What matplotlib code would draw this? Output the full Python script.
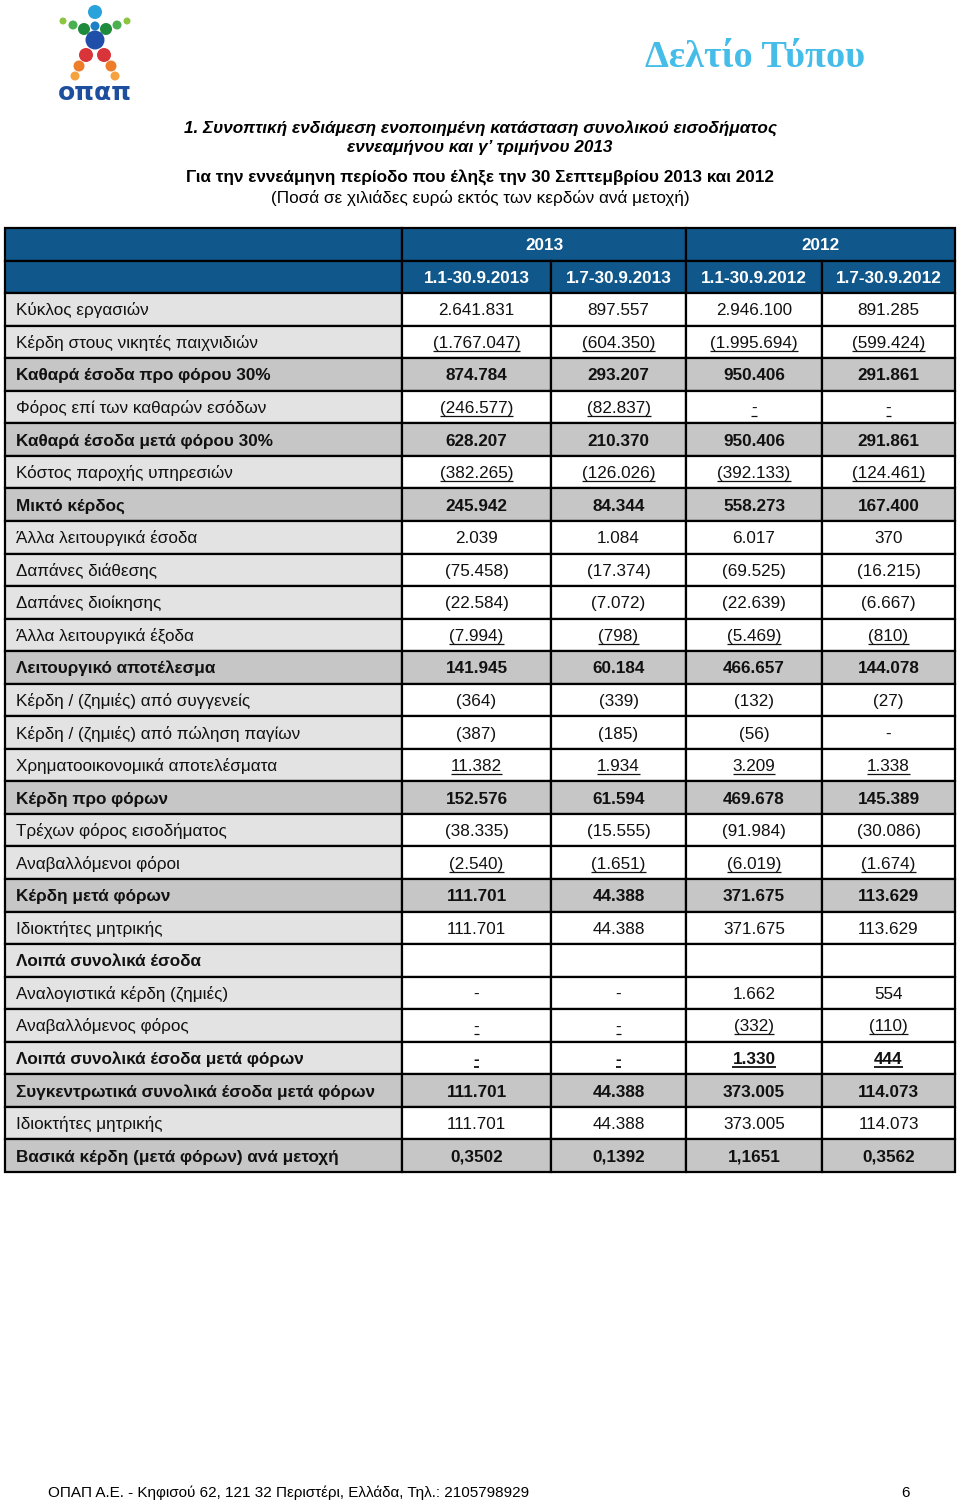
import matplotlib.pyplot as plt
from matplotlib.patches import Rectangle, Circle

# ---- table data (thousands of euro) ----
row_labels = [
    "Κύκλος εργασιών",
    "Κέρδη στους νικητές παιχνιδιών",
    "Καθαρά έσοδα προ φόρου 30%",
    "Φόρος επί των καθαρών εσόδων",
    "Καθαρά έσοδα μετά φόρου 30%",
    "Κόστος παροχής υπηρεσιών",
    "Μικτό κέρδος",
    "Άλλα λειτουργικά έσοδα",
    "Δαπάνες διάθεσης",
    "Δαπάνες διοίκησης",
    "Άλλα λειτουργικά έξοδα",
    "Λειτουργικό αποτέλεσμα",
    "Κέρδη / (ζημιές) από συγγενείς",
    "Κέρδη / (ζημιές) από πώληση παγίων",
    "Χρηματοοικονομικά αποτελέσματα",
    "Κέρδη προ φόρων",
    "Τρέχων φόρος εισοδήματος",
    "Αναβαλλόμενοι φόροι",
    "Κέρδη μετά φόρων",
    "Ιδιοκτήτες μητρικής",
    "Λοιπά συνολικά έσοδα",
    "Αναλογιστικά κέρδη (ζημιές)",
    "Αναβαλλόμενος φόρος",
    "Λοιπά συνολικά έσοδα μετά φόρων",
    "Συγκεντρωτικά συνολικά έσοδα μετά φόρων",
    "Ιδιοκτήτες μητρικής",
    "Βασικά κέρδη (μετά φόρων) ανά μετοχή",
]
nine_months_2013 = ["2.641.831", "(1.767.047)", "874.784", "(246.577)", "628.207", "(382.265)",
                    "245.942", "2.039", "(75.458)", "(22.584)", "(7.994)", "141.945", "(364)",
                    "(387)", "11.382", "152.576", "(38.335)", "(2.540)", "111.701", "111.701",
                    "", "-", "-", "-", "111.701", "111.701", "0,3502"]
q3_2013 = ["897.557", "(604.350)", "293.207", "(82.837)", "210.370", "(126.026)",
           "84.344", "1.084", "(17.374)", "(7.072)", "(798)", "60.184", "(339)",
           "(185)", "1.934", "61.594", "(15.555)", "(1.651)", "44.388", "44.388",
           "", "-", "-", "-", "44.388", "44.388", "0,1392"]
nine_months_2012 = ["2.946.100", "(1.995.694)", "950.406", "-", "950.406", "(392.133)",
                    "558.273", "6.017", "(69.525)", "(22.639)", "(5.469)", "466.657", "(132)",
                    "(56)", "3.209", "469.678", "(91.984)", "(6.019)", "371.675", "371.675",
                    "", "1.662", "(332)", "1.330", "373.005", "373.005", "1,1651"]
q3_2012 = ["891.285", "(599.424)", "291.861", "-", "291.861", "(124.461)",
           "167.400", "370", "(16.215)", "(6.667)", "(810)", "144.078", "(27)",
           "-", "1.338", "145.389", "(30.086)", "(1.674)", "113.629", "113.629",
           "", "554", "(110)", "444", "114.073", "114.073", "0,3562"]
years = ["2013", "2012"]
periods = ["1.1-30.9.2013", "1.7-30.9.2013", "1.1-30.9.2012", "1.7-30.9.2012"]

bold_rows = [2, 4, 6, 11, 15, 18, 20, 23, 24, 26]
total_rows = [2, 4, 6, 11, 15, 18, 24, 26]      # grey across whole row
underline_rows = [1, 3, 5, 10, 14, 17, 22, 23]

value_cols = [nine_months_2013, q3_2013, nine_months_2012, q3_2012]

# ---- styling ----
BLUE = "#10588c"
LIGHT = "#e3e3e3"
GREY = "#c6c6c6"
FONT = ["Liberation Sans", "DejaVu Sans"]
FS = 12.3

col_edges = [5, 402, 551, 686, 822, 955]
top = 228
row_h = 32.55

fig = plt.figure(figsize=(9.6, 15.01), dpi=100)
ax = fig.add_axes([0, 0, 1, 1])
ax.set_xlim(0, 960)
ax.set_ylim(1501, 0)
ax.axis("off")

def cell(x0, x1, y0, color):
    ax.add_patch(Rectangle((x0, y0), x1 - x0, row_h, facecolor=color,
                           edgecolor="black", linewidth=1.6, zorder=1))

# header
for r in range(2):
    cell(col_edges[0], col_edges[1], top + r * row_h, BLUE)
for k, yr in enumerate(years):
    x0, x1 = col_edges[1 + 2 * k], col_edges[3 + 2 * k]
    cell(x0, x1, top, BLUE)
    ax.text((x0 + x1) / 2, top + row_h / 2 + 6, yr, ha="center", va="baseline",
            color="white", fontweight="bold", fontsize=FS, family=FONT, zorder=3)
for c, p in enumerate(periods):
    x0, x1 = col_edges[c + 1], col_edges[c + 2]
    cell(x0, x1, top + row_h, BLUE)
    ax.text((x0 + x1) / 2, top + 1.5 * row_h + 6, p, ha="center", va="baseline",
            color="white", fontweight="bold", fontsize=FS, family=FONT, zorder=3)

# body
under_texts = []
for i, lab in enumerate(row_labels):
    y0 = top + (i + 2) * row_h
    yb = y0 + row_h / 2 + 6
    bold = i in bold_rows
    fw = "bold" if bold else "normal"
    cell(col_edges[0], col_edges[1], y0, GREY if i in total_rows else LIGHT)
    ax.text(16, yb, lab, ha="left", va="baseline", fontsize=FS, family=FONT,
            fontweight=fw, color="#111111", zorder=3)
    for c, vals in enumerate(value_cols):
        x0, x1 = col_edges[c + 1], col_edges[c + 2]
        cell(x0, x1, y0, GREY if i in total_rows else "white")
        if vals[i]:
            t = ax.text((x0 + x1) / 2, yb, vals[i], ha="center", va="baseline",
                        fontsize=FS, family=FONT, fontweight=fw, color="#111111", zorder=3)
            if i in underline_rows:
                under_texts.append((t, yb, bold))

# underlines
fig.canvas.draw()
renderer = fig.canvas.get_renderer()
inv = ax.transData.inverted()
for t, yb, bold in under_texts:
    bb = t.get_window_extent(renderer)
    (xa, _), (xb, _) = inv.transform([(bb.x0, bb.y0), (bb.x1, bb.y0)])
    ax.plot([xa, xb], [yb + 3, yb + 3], color="#111111",
            linewidth=1.3 if bold else 0.9, zorder=4, solid_capstyle="butt")

# titles
ax.text(480, 133, "1. Συνοπτική ενδιάμεση ενοποιημένη κατάσταση συνολικού εισοδήματος",
        ha="center", va="baseline", fontsize=FS, family=FONT, fontweight="bold", style="italic")
ax.text(480, 152, "εννεαμήνου και γ’ τριμήνου 2013",
        ha="center", va="baseline", fontsize=FS, family=FONT, fontweight="bold", style="italic")
ax.text(480, 183, "Για την εννεάμηνη περίοδο που έληξε την 30 Σεπτεμβρίου 2013 και 2012",
        ha="center", va="baseline", fontsize=FS, family=FONT, fontweight="bold")
ax.text(480, 203, "(Ποσά σε χιλιάδες ευρώ εκτός των κερδών ανά μετοχή)",
        ha="center", va="baseline", fontsize=FS, family=FONT)

ax.text(865, 67, "Δελτίο Τύπου", ha="right", va="baseline", fontsize=27.5,
        family=["Liberation Serif", "DejaVu Serif"], fontweight="bold", color="#45bde8")

# logo
logo = [
    (95, 12, 7.0, "#29a3dc"), (95, 26, 4.5, "#1f7fc6"), (95, 40, 9.5, "#1f4fa8"),
    (63, 21, 3.5, "#8cc63f"), (73, 25, 4.5, "#4caf50"), (84, 29, 6.0, "#1e8a3c"),
    (127, 21, 3.5, "#8cc63f"), (117, 25, 4.5, "#4caf50"), (106, 29, 6.0, "#1e8a3c"),
    (86, 55, 7.0, "#d8343a"), (104, 55, 7.0, "#d8343a"),
    (79, 66, 5.5, "#ee7d2a"), (111, 66, 5.5, "#ee7d2a"),
    (75, 76, 4.5, "#f4a340"), (115, 76, 4.5, "#f4a340"),
]
for x, y, r, col in logo:
    ax.add_patch(Circle((x, y), r, facecolor=col, edgecolor="none", zorder=2))
ax.text(95, 100, "οπαπ", ha="center", va="baseline", fontsize=18,
        family=["DejaVu Sans"], fontweight="bold", color="#1d4f9e")

# footer
ax.text(48, 1497, "ΟΠΑΠ Α.Ε. - Κηφισού 62, 121 32 Περιστέρι, Ελλάδα, Τηλ.: 2105798929",
        ha="left", va="baseline", fontsize=11, family=FONT)
ax.text(910, 1497, "6", ha="right", va="baseline", fontsize=11, family=FONT)

fig.savefig("out.png", dpi=100)
